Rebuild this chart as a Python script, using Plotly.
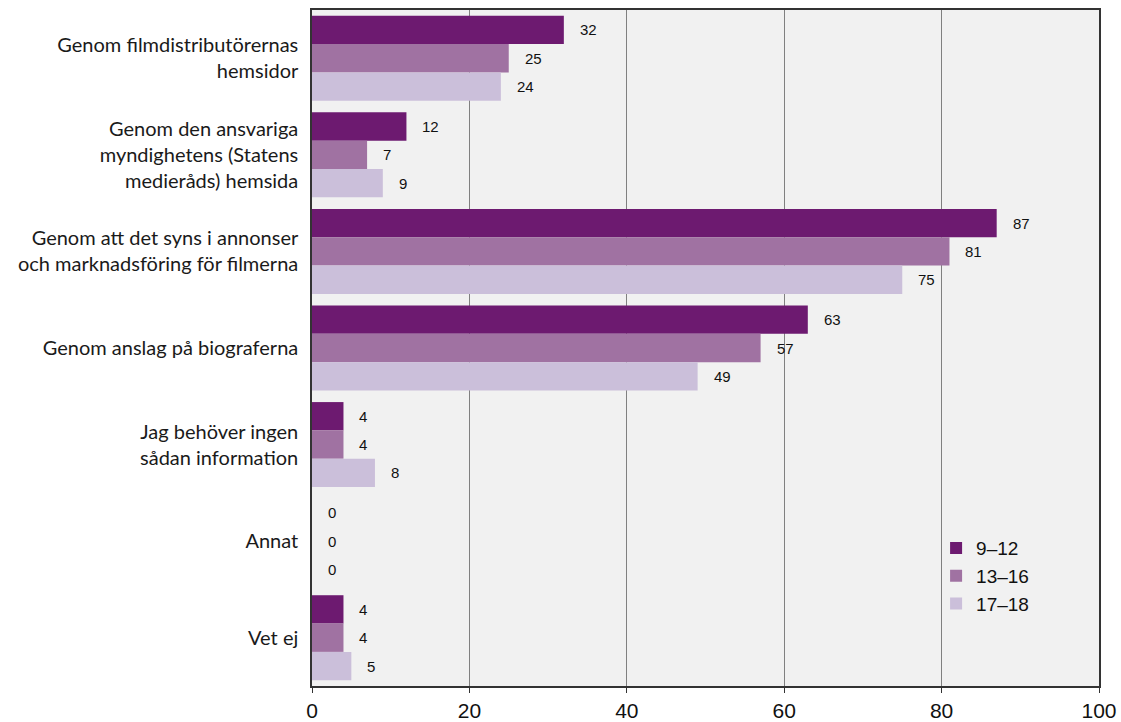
import plotly.graph_objects as go

categories = [
    "Genom filmdistributörernas<br>hemsidor",
    "Genom den ansvariga<br>myndighetens (Statens<br>medieråds) hemsida",
    "Genom att det syns i annonser<br>och marknadsföring för filmerna",
    "Genom anslag på biograferna",
    "Jag behöver ingen<br>sådan information",
    "Annat",
    "Vet ej",
]
series_names = ["9–12", "13–16", "17–18"]
vals_9_12 = [32, 12, 87, 63, 4, 0, 4]
vals_13_16 = [25, 7, 81, 57, 4, 0, 4]
vals_17_18 = [24, 9, 75, 49, 8, 0, 5]
x_ticks = [0, 20, 40, 60, 80, 100]

colors = ["#6d1a70", "#a072a2", "#cbbfda"]
all_vals = [vals_9_12, vals_13_16, vals_17_18]

FONT = "Liberation Sans, Arial, Helvetica, sans-serif"
LABEL_FONT = "Lato, Liberation Sans, sans-serif"

fig = go.Figure()
for name, vals, col in zip(series_names, all_vals, colors):
    fig.add_trace(go.Bar(
        y=categories, x=vals, name=name, orientation="h",
        marker=dict(color=col, line=dict(width=0)),
        hoverinfo="skip",
    ))

# value labels
bar_px = 28.3
shifts = [bar_px, 0, -bar_px]
annotations = []
for vals, ys in zip(all_vals, shifts):
    for cat, v in zip(categories, vals):
        annotations.append(dict(
            x=v, y=cat, xref="x", yref="y", text=str(v), showarrow=False,
            xanchor="left", yanchor="middle", xshift=14, yshift=ys,
            font=dict(family=FONT, size=15, color="#111111"),
        ))

fig.update_layout(
    width=1121, height=722,
    margin=dict(l=312, r=22, t=10, b=36, autoexpand=False),
    barmode="group", bargap=0.12, bargroupgap=0,
    paper_bgcolor="white", plot_bgcolor="#f1f1f1",
    font=dict(family=FONT, size=19, color="#111111"),
    showlegend=True,
    legend=dict(
        x=0.793, y=0.232, xanchor="left", yanchor="top",
        bgcolor="rgba(0,0,0,0)", font=dict(size=19, family=FONT),
        itemwidth=30, tracegroupgap=0,
    ),
    annotations=annotations,
)
fig.update_xaxes(
    range=[0, 100], tickvals=x_ticks, showgrid=True, gridcolor="#808080", gridwidth=1,
    showline=True, linecolor="#333333", linewidth=1.5, mirror=True,
    ticks="outside", ticklen=5, tickcolor="#333333",
    tickfont=dict(size=21, family=FONT), zeroline=False, automargin=False,
)
fig.update_yaxes(
    autorange="reversed", showline=True, linecolor="#333333", linewidth=1.5, mirror=True,
    ticks="", tickfont=dict(size=20, family=LABEL_FONT, color="#1a1a1a"), showgrid=False,
    ticklabelstandoff=8, automargin=False,
)

fig.write_html(
    "out.html",
    config={"displayModeBar": False},
    post_script="document.body.style.margin='0';document.body.style.overflow='hidden';",
)
